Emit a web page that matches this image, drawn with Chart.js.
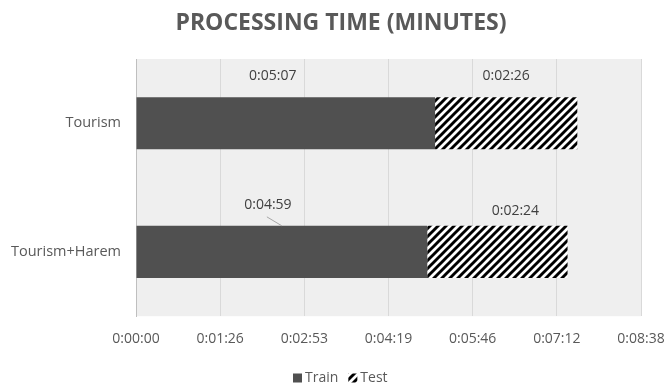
<!DOCTYPE html>
<html>
<head>
<meta charset="utf-8">
<script src="https://cdn.jsdelivr.net/npm/chart.js@4/dist/chart.umd.min.js"></script>
<style>
  html, body { margin: 0; padding: 0; background: #ffffff; }
  #wrap { width: 667px; height: 383px; }
</style>
</head>
<body>
<div id="wrap"><canvas id="c" width="667" height="383"></canvas></div>
<script>
// Processing time per corpus, in seconds
const categories = ['Tourism', 'Tourism+Harem'];
const trainSeconds = [307, 299];
const testSeconds = [146, 144];
const seriesNames = ['Train', 'Test'];
const chartTitle = 'PROCESSING TIME (MINUTES)';
// Axis ticks are 0.001-day steps (86.4 s)
const tickStepSeconds = 86.4;
const axisMaxSeconds = 518.4;

function fmtTime(sec) {
  const s = Math.round(sec);
  const h = Math.floor(s / 3600);
  const m = Math.floor((s % 3600) / 60);
  const r = s % 60;
  return h + ':' + String(m).padStart(2, '0') + ':' + String(r).padStart(2, '0');
}

// Diagonal black/white stripes for the Test series
function makeHatch() {
  const p = 8;
  const c = document.createElement('canvas');
  c.width = p; c.height = p;
  const g = c.getContext('2d');
  g.fillStyle = '#ffffff';
  g.fillRect(0, 0, p, p);
  g.strokeStyle = '#000000';
  g.lineWidth = 2.9;
  g.beginPath();
  g.moveTo(-1, p + 1); g.lineTo(p + 1, -1);
  g.moveTo(-p / 2 - 1, p / 2 + 1); g.lineTo(p / 2 + 1, -p / 2 - 1);
  g.moveTo(p / 2 - 1, p * 1.5 + 1); g.lineTo(p * 1.5 + 1, p / 2 - 1);
  g.stroke();
  return g.createPattern(c, 'repeat');
}
const hatch = makeHatch();

const FONT = "'Open Sans', 'Noto Sans', sans-serif";
const TEXT = '#595959';

// Plot-area background
const plotBg = {
  id: 'plotBg',
  beforeDraw(chart) {
    const a = chart.chartArea, ctx = chart.ctx;
    ctx.save();
    ctx.fillStyle = '#efefef';
    ctx.fillRect(a.left, a.top, a.right - a.left, a.bottom - a.top);
    ctx.restore();
  }
};

// Title and legend drawn in fixed slots above and below the plot
const frame = {
  id: 'frame',
  afterDraw(chart) {
    const ctx = chart.ctx;
    ctx.save();
    ctx.fillStyle = TEXT;
    ctx.font = 'bold 23px ' + FONT;
    ctx.textAlign = 'center';
    ctx.textBaseline = 'alphabetic';
    ctx.fillText(chartTitle, 341, 30);

    ctx.font = '14px ' + FONT;
    ctx.textAlign = 'left';
    ctx.textBaseline = 'middle';
    const cy = 378;
    let x = 293;
    chart.data.datasets.forEach((ds, i) => {
      ctx.fillStyle = ds.backgroundColor;
      ctx.fillRect(x, cy - 4.5, 9, 9);
      ctx.fillStyle = TEXT;
      ctx.fillText(ds.label, x + 12, cy);
      x += 12 + ctx.measureText(ds.label).width + 10;
    });
    ctx.restore();
  }
};

// Value labels placed above each bar segment
const labelOffsets = [
  [{ dx: -13, dy: 21 }, { dx: 0, dy: 21 }],
  [{ dx: -14, dy: 21, leader: true }, { dx: 18, dy: 15 }]
];
const valueLabels = {
  id: 'valueLabels',
  afterDatasetsDraw(chart) {
    const ctx = chart.ctx;
    ctx.save();
    ctx.font = '14px ' + FONT;
    ctx.fillStyle = '#404040';
    ctx.textAlign = 'center';
    ctx.textBaseline = 'middle';
    chart.data.datasets.forEach((ds, di) => {
      const meta = chart.getDatasetMeta(di);
      meta.data.forEach((bar, i) => {
        const o = labelOffsets[i][di === 0 ? 0 : 1];
        const cx = (bar.x + bar.base) / 2;
        const top = bar.y - bar.height / 2;
        const lx = cx + o.dx, ly = top - o.dy;
        ctx.fillText(fmtTime(ds.data[i]), lx, ly);
        if (o.leader) {
          ctx.strokeStyle = '#a6a6a6';
          ctx.lineWidth = 1;
          ctx.beginPath();
          ctx.moveTo(lx - 1, ly + 12);
          ctx.lineTo(lx + 14, top);
          ctx.stroke();
        }
      });
    });
    ctx.restore();
  }
};

new Chart(document.getElementById('c'), {
  type: 'bar',
  data: {
    labels: categories,
    datasets: [
      { label: seriesNames[0], data: trainSeconds, backgroundColor: '#505050',
        barPercentage: 0.81, categoryPercentage: 0.5 },
      { label: seriesNames[1], data: testSeconds, backgroundColor: hatch,
        barPercentage: 0.81, categoryPercentage: 0.5 }
    ]
  },
  options: {
    indexAxis: 'y',
    responsive: false,
    animation: false,
    layout: { padding: { left: 0, right: 0, top: 59, bottom: 22 } },
    scales: {
      x: {
        stacked: true,
        min: 0,
        max: axisMaxSeconds,
        border: { display: false },
        grid: { color: '#d9d9d9', drawTicks: false, lineWidth: 1 },
        ticks: {
          stepSize: tickStepSeconds,
          padding: 14,
          color: TEXT,
          font: { family: FONT, size: 14 },
          callback: v => fmtTime(v)
        },
        afterFit(scale) { scale.paddingRight = 26; scale.paddingLeft = 0; }
      },
      y: {
        stacked: true,
        border: { display: true, color: '#bfbfbf' },
        grid: { display: false, drawTicks: false },
        ticks: { padding: 15, color: TEXT, font: { family: FONT, size: 14.5 } },
        afterFit(scale) { scale.width = 136; scale.paddingTop = 0; scale.paddingBottom = 0; }
      }
    },
    plugins: {
      title: { display: false },
      legend: { display: false },
      tooltip: { enabled: false }
    }
  },
  plugins: [plotBg, valueLabels, frame]
});
</script>
</body>
</html>
